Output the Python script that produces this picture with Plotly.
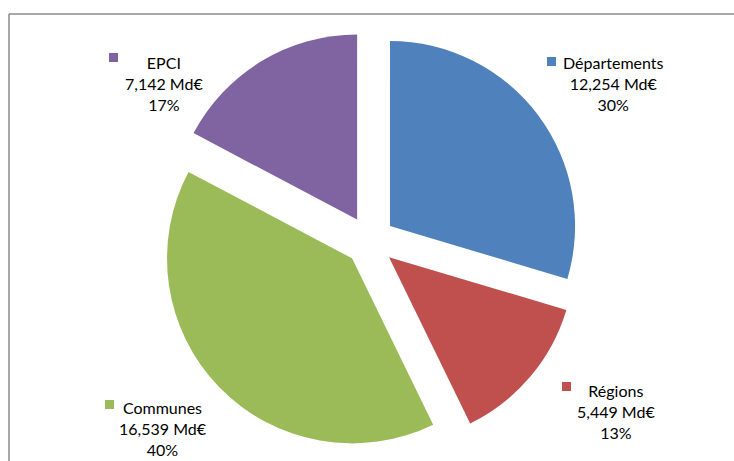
import plotly.graph_objects as go

# Répartition par catégorie de collectivité (milliards d'euros)
categories = ["Départements", "Régions", "Communes", "EPCI"]
values = [12.254, 5.449, 16.539, 7.142]
colors = ["#4F81BD", "#C0504D", "#9BBB59", "#8064A2"]

W, H = 734, 461
FONT = "Lato"

# Label block placement (pixel centre of text block, marker square top-left)
label_pos = {
    "Départements": dict(cx=613, cy=84, mx=547, my=57),
    "Régions": dict(cx=616, cy=411, mx=562, my=382),
    "Communes": dict(cx=163, cy=428, mx=105, my=400),
    "EPCI": dict(cx=164, cy=83, mx=109, my=53),
}


def px(x):
    return x / W


def py(y):
    return 1 - y / H


total = sum(values)


def fr(v, nd):
    return f"{v:.{nd}f}".replace(".", ",")


fig = go.Figure(
    go.Pie(
        labels=categories,
        values=values,
        marker=dict(colors=colors, line=dict(width=0)),
        sort=False,
        direction="clockwise",
        rotation=0,
        pull=[0.135] * len(values),
        textinfo="none",
        hoverinfo="label+value+percent",
        showlegend=False,
        domain=dict(x=[px(160), px(580)], y=[py(451), py(31)]),
    )
)

annotations = []
shapes = []
for cat, val, col in zip(categories, values, colors):
    p = label_pos[cat]
    pct = round(100 * val / total)
    annotations.append(
        dict(
            x=px(p["cx"]),
            y=py(p["cy"]),
            xref="paper",
            yref="paper",
            xanchor="center",
            yanchor="middle",
            align="center",
            showarrow=False,
            text=f"{cat}<br>{fr(val, 3)} Md€<br>{pct}%",
            font=dict(family=FONT, size=16, color="#000000"),
        )
    )
    shapes.append(
        dict(
            type="rect",
            xref="paper",
            yref="paper",
            x0=px(p["mx"]),
            x1=px(p["mx"] + 9),
            y0=py(p["my"] + 9),
            y1=py(p["my"]),
            fillcolor=col,
            line=dict(width=0),
        )
    )

# Chart frame: top and left borders
shapes.append(dict(type="line", xref="paper", yref="paper",
                   x0=px(9), x1=1.0, y0=py(14), y1=py(14),
                   line=dict(color="#8a8a8a", width=1.5)))
shapes.append(dict(type="line", xref="paper", yref="paper",
                   x0=px(9), x1=px(9), y0=py(14), y1=0.0,
                   line=dict(color="#8a8a8a", width=1.5)))

fig.update_layout(
    width=W,
    height=H,
    margin=dict(l=0, r=0, t=0, b=0),
    paper_bgcolor="white",
    plot_bgcolor="white",
    annotations=annotations,
    shapes=shapes,
    font=dict(family=FONT),
)

fig.write_html("out.html")
